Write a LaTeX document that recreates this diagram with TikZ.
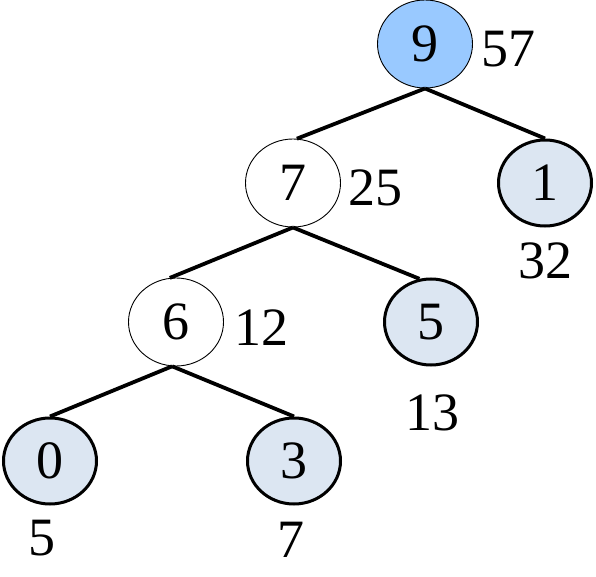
\documentclass[tikz,border=0pt]{standalone}
\usepackage{fontspec}
\setmainfont{Liberation Serif}
\usetikzlibrary{shapes.geometric}
\definecolor{rootfill}{RGB}{153,201,255}
\definecolor{leaffill}{RGB}{220,230,242}
\begin{document}
\begin{tikzpicture}[x=1pt,y=-1pt,
  every node/.style={font=\fontsize{54}{60}\selectfont},
  tnode/.style={ellipse, draw=black, minimum width=95pt, minimum height=88pt, inner sep=0pt},
  inner/.style={tnode, line width=0.9pt, fill=white},
  rootnode/.style={tnode, line width=0.9pt, fill=rootfill},
  leaf/.style={tnode, line width=3pt, fill=leaffill, minimum width=93pt, minimum height=86pt},
  wlabel/.style={inner sep=0pt, anchor=center},
  edge/.style={line width=3.8pt}]
\useasboundingbox (0,0) rectangle (596,577);
\node[rootnode] (n9) at (425,44) {9};
\node[inner] (n7) at (293,183) {7};
\node[leaf] (n1) at (545,183) {1};
\node[inner] (n6) at (176,322) {6};
\node[leaf] (n5) at (431,322) {5};
\node[leaf] (n0) at (50,461) {0};
\node[leaf] (n3) at (294,461) {3};
\node[wlabel] (l57) at (508,49) {57};
\node[wlabel] (l25) at (375,188) {25};
\node[wlabel] (l32) at (545,261) {32};
\node[wlabel] (l12) at (261,328) {12};
\node[wlabel] (l13) at (432,413) {13};
\node[wlabel] (l5) at (42,538) {5};
\node[wlabel] (l7) at (291,540) {7};
\draw[edge] (n9.south) -- (n7.85);
\draw[edge] (n9.south) -- (n1.north);
\draw[edge] (n7.south) -- (n6.98);
\draw[edge] (n7.south) -- (n5.105);
\draw[edge] (n6.265) -- (n0.north);
\draw[edge] (n6.265) -- (n3.north);
\end{tikzpicture}
\end{document}
